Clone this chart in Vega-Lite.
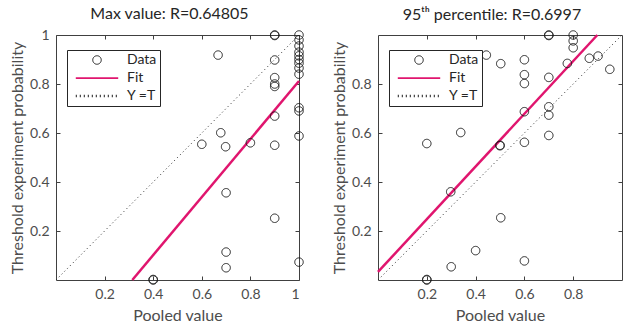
{
  "$schema": "https://vega.github.io/schema/vega-lite/v6.json",
  "padding": {"left": 8, "top": 5, "right": 0, "bottom": 0},
  "spacing": 24,
  "config": {
    "font": "Lato",
    "view": {"stroke": "#404040", "strokeWidth": 1},
    "title": {"fontSize": 16, "fontWeight": "normal", "color": "#262626", "offset": 6, "dx": -8},
    "axis": {
      "domain": false, "grid": false, "tickColor": "#404040", "tickSize": -4,
      "labelFontSize": 14, "labelColor": "#4d4d4d", "labelPadding": 11,
      "titleFontSize": 16, "titleFontWeight": "normal", "titleColor": "#4d4d4d", "format": "~g"
    },
    "axisX": {"titlePadding": 6},
    "legend": {
      "orient": "none", "legendX": 11, "legendY": 15, "title": null,
      "strokeColor": "#262626", "fillColor": "white", "padding": 3,
      "symbolSize": 72, "symbolOffset": 20, "labelOffset": 23, "labelFontSize": 14, "labelColor": "#262626",
      "rowPadding": 4, "clipHeight": 14, "labelExpr": "datum.label + '\u00a0\u00a0'"
    }
  },
  "resolve": {"scale": {"color": "independent", "shape": "independent", "strokeDash": "independent", "strokeWidth": "independent"},
              "legend": {"color": "independent", "shape": "independent", "strokeDash": "independent", "strokeWidth": "independent"}},
  "datasets": {
    "diag": [{"x": 0, "y": 0}, {"x": 1, "y": 1}],
    "leftfit": [{"x": 0.314, "y": 0}, {"x": 1, "y": 0.812}],
    "rightfit": [{"x": 0, "y": 0.033}, {"x": 0.899, "y": 1}],
    "left": [
      {"x": 0.667, "y": 0.918, "series": "Data"},
      {"x": 0.9, "y": 1.0, "series": "Data"},
      {"x": 0.9, "y": 0.998, "series": "Data"},
      {"x": 1.0, "y": 1.0, "series": "Data"},
      {"x": 0.9, "y": 0.898, "series": "Data"},
      {"x": 0.9, "y": 0.826, "series": "Data"},
      {"x": 0.9, "y": 0.8, "series": "Data"},
      {"x": 0.9, "y": 0.79, "series": "Data"},
      {"x": 0.9, "y": 0.669, "series": "Data"},
      {"x": 0.9, "y": 0.55, "series": "Data"},
      {"x": 1.0, "y": 0.98, "series": "Data"},
      {"x": 1.0, "y": 0.955, "series": "Data"},
      {"x": 1.0, "y": 0.93, "series": "Data"},
      {"x": 1.0, "y": 0.915, "series": "Data"},
      {"x": 1.0, "y": 0.9, "series": "Data"},
      {"x": 1.0, "y": 0.885, "series": "Data"},
      {"x": 1.0, "y": 0.865, "series": "Data"},
      {"x": 1.0, "y": 0.84, "series": "Data"},
      {"x": 1.0, "y": 0.703, "series": "Data"},
      {"x": 1.0, "y": 0.69, "series": "Data"},
      {"x": 1.0, "y": 0.588, "series": "Data"},
      {"x": 0.6, "y": 0.554, "series": "Data"},
      {"x": 0.678, "y": 0.601, "series": "Data"},
      {"x": 0.698, "y": 0.544, "series": "Data"},
      {"x": 0.8, "y": 0.56, "series": "Data"},
      {"x": 0.7, "y": 0.356, "series": "Data"},
      {"x": 0.9, "y": 0.252, "series": "Data"},
      {"x": 0.7, "y": 0.114, "series": "Data"},
      {"x": 0.7, "y": 0.05, "series": "Data"},
      {"x": 1.0, "y": 0.073, "series": "Data"},
      {"x": 0.4, "y": 0.0, "series": "Data"},
      {"x": 0.4, "y": 0.002, "series": "Data"}
    ],
    "right": [
      {"x": 0.2, "y": 0.557, "series": "Data"},
      {"x": 0.339, "y": 0.602, "series": "Data"},
      {"x": 0.444, "y": 0.918, "series": "Data"},
      {"x": 0.503, "y": 0.883, "series": "Data"},
      {"x": 0.407, "y": 0.793, "series": "Data"},
      {"x": 0.5, "y": 0.55, "series": "Data"},
      {"x": 0.5, "y": 0.548, "series": "Data"},
      {"x": 0.6, "y": 0.899, "series": "Data"},
      {"x": 0.6, "y": 0.838, "series": "Data"},
      {"x": 0.6, "y": 0.802, "series": "Data"},
      {"x": 0.6, "y": 0.687, "series": "Data"},
      {"x": 0.6, "y": 0.562, "series": "Data"},
      {"x": 0.7, "y": 1.0, "series": "Data"},
      {"x": 0.7, "y": 0.998, "series": "Data"},
      {"x": 0.7, "y": 0.827, "series": "Data"},
      {"x": 0.7, "y": 0.707, "series": "Data"},
      {"x": 0.7, "y": 0.673, "series": "Data"},
      {"x": 0.7, "y": 0.59, "series": "Data"},
      {"x": 0.776, "y": 0.884, "series": "Data"},
      {"x": 0.8, "y": 1.0, "series": "Data"},
      {"x": 0.8, "y": 0.976, "series": "Data"},
      {"x": 0.8, "y": 0.948, "series": "Data"},
      {"x": 0.866, "y": 0.905, "series": "Data"},
      {"x": 0.902, "y": 0.914, "series": "Data"},
      {"x": 0.95, "y": 0.86, "series": "Data"},
      {"x": 0.298, "y": 0.36, "series": "Data"},
      {"x": 0.503, "y": 0.254, "series": "Data"},
      {"x": 0.4, "y": 0.12, "series": "Data"},
      {"x": 0.3, "y": 0.054, "series": "Data"},
      {"x": 0.6, "y": 0.078, "series": "Data"},
      {"x": 0.2, "y": 0.0, "series": "Data"},
      {"x": 0.2, "y": 0.002, "series": "Data"}
    ]
  },
  "hconcat": [
    {
      "width": 243, "height": 245,
      "title": "Max value: R=0.64805",
      "resolve": {"axis": {"x": "independent", "y": "independent"}},
      "layer": [
        {
          "data": {"name": "diag"},
          "mark": {"type": "line", "color": "#262626", "strokeWidth": 1, "strokeDash": [1, 3]},
          "encoding": {
            "x": {"field": "x", "type": "quantitative", "scale": {"domain": [0, 1], "nice": false},
                  "axis": {"orient": "top", "labels": false, "title": null, "values": [0.2, 0.4, 0.6, 0.8, 1]}},
            "y": {"field": "y", "type": "quantitative", "scale": {"domain": [0, 1], "nice": false},
                  "axis": {"orient": "right", "labels": false, "title": null, "values": [0.2, 0.4, 0.6, 0.8, 1]}}
          }
        },
        {
          "data": {"name": "leftfit"},
          "mark": {"type": "line", "color": "#e0156e", "strokeWidth": 2.5},
          "encoding": {
            "x": {"field": "x", "type": "quantitative", "axis": null},
            "y": {"field": "y", "type": "quantitative", "axis": null}
          }
        },
        {
          "data": {"name": "left"},
          "mark": {"type": "point", "filled": false, "size": 72, "opacity": 1},
          "encoding": {
            "x": {"field": "x", "type": "quantitative", "title": "Pooled value",
                  "axis": {"orient": "bottom", "values": [0.2, 0.4, 0.6, 0.8, 1]}},
            "y": {"field": "y", "type": "quantitative", "title": "Threshold experiment probability",
                  "axis": {"orient": "left", "values": [0.2, 0.4, 0.6, 0.8, 1]}},
            "color": {"field": "series", "type": "nominal",
              "scale": {"domain": ["Data", "Fit", "Y =T"], "range": ["#1a1a1a", "#e0156e", "#1a1a1a"]}},
            "shape": {"field": "series", "type": "nominal",
              "scale": {"domain": ["Data", "Fit", "Y =T"], "range": ["circle", "M-5,0H5", "M-5,0H5"]}},
            "strokeDash": {"field": "series", "type": "nominal",
              "scale": {"domain": ["Data", "Fit", "Y =T"], "range": [[1, 0], [1, 0], [1, 3]]}},
            "strokeWidth": {"field": "series", "type": "nominal",
              "scale": {"domain": ["Data", "Fit", "Y =T"], "range": [1, 2.5, 1]}}
          }
        }
      ]
    },
    {
      "width": 244, "height": 245,
      "title": "95ᵗʰ percentile: R=0.6997",
      "resolve": {"axis": {"x": "independent", "y": "independent"}},
      "layer": [
        {
          "data": {"name": "diag"},
          "mark": {"type": "line", "color": "#262626", "strokeWidth": 1, "strokeDash": [1, 3]},
          "encoding": {
            "x": {"field": "x", "type": "quantitative", "scale": {"domain": [0, 1], "nice": false},
                  "axis": {"orient": "top", "labels": false, "title": null, "values": [0.2, 0.4, 0.6, 0.8]}},
            "y": {"field": "y", "type": "quantitative", "scale": {"domain": [0, 1], "nice": false},
                  "axis": {"orient": "right", "labels": false, "title": null, "values": [0.2, 0.4, 0.6, 0.8]}}
          }
        },
        {
          "data": {"name": "rightfit"},
          "mark": {"type": "line", "color": "#e0156e", "strokeWidth": 2.5},
          "encoding": {
            "x": {"field": "x", "type": "quantitative", "axis": null},
            "y": {"field": "y", "type": "quantitative", "axis": null}
          }
        },
        {
          "data": {"name": "right"},
          "mark": {"type": "point", "filled": false, "size": 72, "opacity": 1},
          "encoding": {
            "x": {"field": "x", "type": "quantitative", "title": "Pooled value",
                  "axis": {"orient": "bottom", "values": [0.2, 0.4, 0.6, 0.8]}},
            "y": {"field": "y", "type": "quantitative", "title": "Threshold experiment probability",
                  "axis": {"orient": "left", "values": [0.2, 0.4, 0.6, 0.8]}},
            "color": {"field": "series", "type": "nominal",
              "scale": {"domain": ["Data", "Fit", "Y =T"], "range": ["#1a1a1a", "#e0156e", "#1a1a1a"]}},
            "shape": {"field": "series", "type": "nominal",
              "scale": {"domain": ["Data", "Fit", "Y =T"], "range": ["circle", "M-5,0H5", "M-5,0H5"]}},
            "strokeDash": {"field": "series", "type": "nominal",
              "scale": {"domain": ["Data", "Fit", "Y =T"], "range": [[1, 0], [1, 0], [1, 3]]}},
            "strokeWidth": {"field": "series", "type": "nominal",
              "scale": {"domain": ["Data", "Fit", "Y =T"], "range": [1, 2.5, 1]}}
          }
        }
      ]
    }
  ]
}
